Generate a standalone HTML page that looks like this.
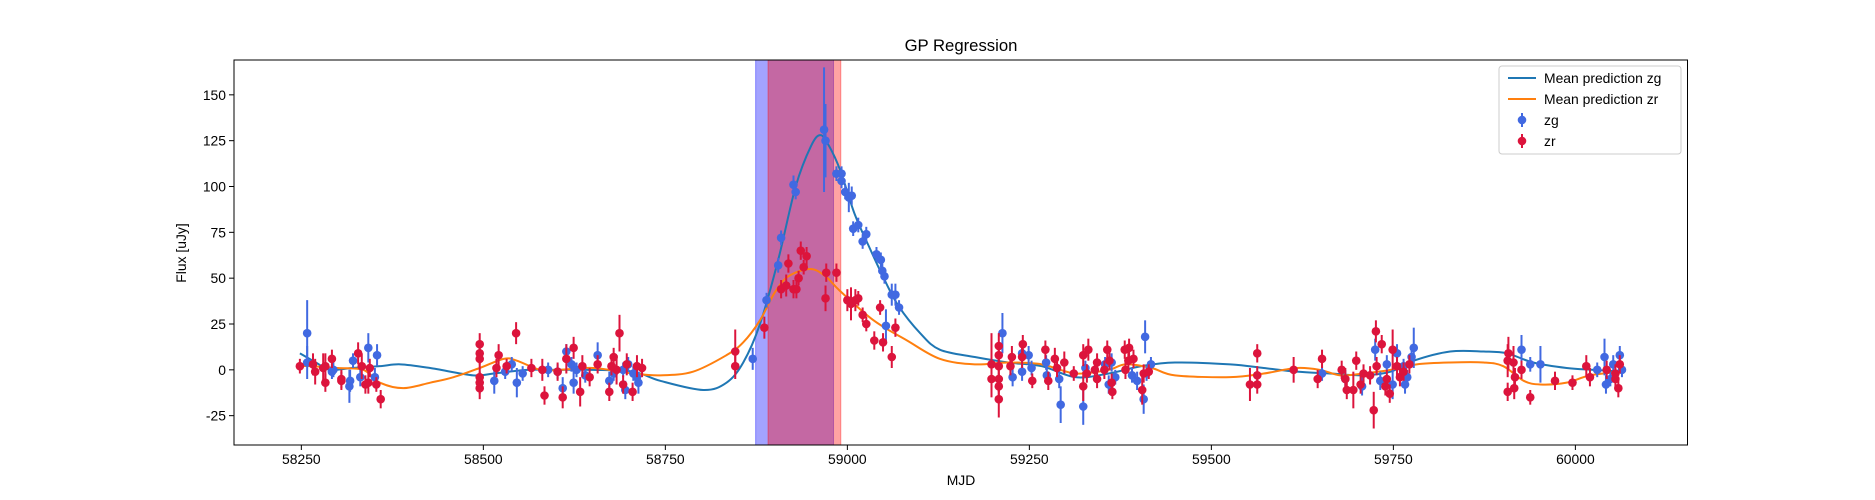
<!DOCTYPE html>
<html><head><meta charset="utf-8"><style>
body{margin:0;background:#fff}
svg{display:block;font-family:"Liberation Sans","DejaVu Sans",sans-serif}
</style></head><body>
<svg id="chart" width="1875" height="500" viewBox="0 0 1875 500"></svg>
<script>
const zgPoints=[[58258,20,18],[58258,4,9],[58294,0,4],[58292,-1,4],[58321,5,4],[58342,12,8],[58354,8,6],[58317,-6,6],[58316,-9,9],[58331,-4,5],[58351,-4,5],
[58515,-6,7],[58530,-1,4],[58539,3,4],[58546,-7,8],[58554,-2,4],[58589,0,4],[58602,-1,4],[58609,-10,6],[58614,10,4],[58624,-7,6],[58621,3,4],[58628,0,4],[58640,-3,4],[58657,8,7],[58673,-6,5],[58679,-2,4],[58692,0,4],[58699,3,4],[58706,-2,4],[58711,-4,4],[58713,-7,6],[58695,-11,5],
[58870,6,6],[58889,38,4],[58905,57,4],[58909,72,4],[58926,101,5],[58929,97,4],[58968,131,34],[58970,125,20],[58985,107,4],[58992,107,4],[58992,103,4],[58997,97,4],[59002,94,8],[59006,95,5],[59008,77,4],[59015,79,4],[59021,70,4],[59026,74,4],[59040,63,4],[59046,60,4],[59048,54,4],[59051,51,4],[59061,41,6],[59066,41,6],[59071,34,4],[59053,24,9],
[59213,20,11],[59227,-4,5],[59240,9,5],[59240,-1,5],[59249,8,5],[59253,1,4],[59273,4,4],[59274,-3,5],[59291,-5,5],[59293,-19,10],[59324,-20,10],[59327,1,4],[59354,3,4],[59363,4,5],[59359,-8,5],[59368,-4,4],[59391,-3,4],[59398,-6,5],[59409,18,9],[59407,-16,8],[59417,3,4],[59411,-2,4],
[59652,-2,4],[59684,-5,5],[59707,-9,5],[59725,11,6],[59732,-6,5],[59741,3,5],[59749,-8,8],[59755,9,5],[59764,2,4],[59766,-8,5],[59769,-4,4],[59775,7,5],[59778,12,11],
[59926,11,8],[59938,3,4],[59952,3,10],[60030,0,4],[60040,7,10],[60042,-8,5],[60052,3,5],[60061,8,5],[60064,0,4],[60048,-5,4]];
const zrPoints=[[58248,2,4],[58266,3,6],[58269,-1,7],[58280,1,8],[58283,2,7],[58283,-7,5],[58292,6,5],[58305,-5,5],[58305,-6,5],[58328,9,6],[58333,2,7],[58344,1,5],[58338,-8,5],[58342,-7,6],[58353,-8,4],[58359,-16,5],
[58495,14,6],[58495,9,6],[58495,6,5],[58495,-4,5],[58495,-7,6],[58495,-10,6],[58521,8,6],[58518,1,5],[58532,2,4],[58545,20,6],[58566,1,5],[58581,0,6],[58584,-14,5],[58602,-1,5],[58609,-15,6],[58614,6,8],[58624,12,6],[58636,2,6],[58633,-12,8],[58646,-4,5],[58657,3,5],[58673,-12,5],[58676,2,5],[58679,7,5],[58687,20,10],[58683,0,8],[58692,-8,5],[58697,3,6],[58705,-12,5],[58711,2,6],[58718,1,5],
[58846,10,12],[58846,2,7],[58886,23,6],[58909,44,5],[58916,46,6],[58919,58,5],[58926,44,5],[58930,44,5],[58933,50,4],[58936,65,5],[58940,56,4],[58944,62,5],[58970,39,7],[58971,53,5],[58985,53,5],[59000,38,6],[59005,36,9],[59011,38,6],[59015,39,4],[59021,30,4],[59026,25,4],[59037,16,5],[59045,34,4],[59049,15,5],[59061,7,6],[59066,23,5],
[59198,3,17],[59198,-5,10],[59208,13,7],[59208,8,7],[59208,2,7],[59208,-5,7],[59208,-9,7],[59208,-16,10],[59226,7,6],[59224,2,5],[59241,14,5],[59240,7,6],[59254,-6,4],[59272,11,5],[59276,-6,5],[59285,6,6],[59288,1,5],[59298,4,6],[59311,-2,4],[59324,8,6],[59331,11,6],[59324,-9,8],[59329,-2,5],[59343,4,5],[59340,0,5],[59343,-5,5],[59357,11,5],[59360,5,5],[59353,0,5],[59363,-7,5],[59364,-12,4],[59381,11,5],[59387,12,5],[59386,5,5],[59393,6,5],[59382,0,5],[59405,-11,8],[59407,-2,5],[59414,-1,4],
[59553,-8,9],[59563,9,5],[59563,-3,5],[59563,-8,5],[59613,0,7],[59646,-5,5],[59652,6,5],[59679,0,5],[59684,-5,6],[59686,-11,5],[59695,-11,10],[59699,5,5],[59705,-8,5],[59709,-2,5],[59718,-3,5],[59723,-22,10],[59726,21,6],[59727,2,5],[59734,14,5],[59739,-9,5],[59745,-13,5],[59749,11,11],[59741,-5,5],[59755,2,5],[59759,-4,5],[59764,-1,5],[59772,3,5],
[59908,9,9],[59907,5,9],[59915,4,9],[59917,-4,5],[59926,0,5],[59907,-12,5],[59916,-10,6],[59938,-15,4],[59972,-6,5],[59996,-7,4],[60015,2,6],[60020,-4,5],[60043,0,5],[60055,-2,5],[60055,-5,5],[60059,-10,5],[60061,3,5]];
const zgCurve=[[58248,9],[58270,4],[58289,0],[58320,1],[58358,2],[58386,3],[58427,1],[58486,-3],[58514,-2],[58560,0],[58605,0],[58651,0],[58706,-1],[58743,-6],[58802,-11],[58834,-7],[58857,4],[58880,25],[58905,60],[58929,100],[58950,122],[58963,128],[58975,122],[58990,109],[59010,85],[59030,67],[59050,50],[59070,35],[59100,20],[59127,11],[59175,7],[59221,4],[59267,2],[59313,-4],[59359,-2],[59404,2],[59450,4],[59526,3],[59572,1],[59617,-1],[59663,-2],[59709,-3],[59746,-1],[59778,5],[59828,10],[59874,10],[59906,9],[59942,4],[59988,1],[60025,0],[60064,-1]];
const zrCurve=[[58248,2],[58262,2],[58300,1],[58335,0],[58358,-7],[58390,-10],[58427,-7],[58459,-4],[58495,1],[58528,6],[58546,5],[58578,0],[58605,0],[58651,1],[58706,-2],[58743,-3],[58788,-1],[58834,8],[58857,15],[58880,27],[58900,42],[58919,51],[58949,55],[58970,51],[58990,43],[59036,27],[59082,16],[59127,6],[59175,3],[59221,4],[59267,3],[59313,-2],[59359,0],[59382,3],[59418,1],[59450,-3],[59526,-4],[59572,-2],[59617,1],[59649,0],[59677,-3],[59709,-2],[59746,0],[59782,3],[59828,4],[59874,4],[59901,2],[59929,-6],[59952,-8],[59988,-7],[60020,-3],[60064,-1]];
const zgSpan=[58874,58981];
const zrSpan=[58891,58991];
const xTicks=[58250,58500,58750,59000,59250,59500,59750,60000];
const yTicks=[-25,0,25,50,75,100,125,150];

const L=234,R=1687.5,T=60,B=445,X0=58157.5,X1=60154,Y0=-41,Y1=169;
const sx=m=>L+(m-X0)/(X1-X0)*(R-L);
const sy=v=>B-(v-Y0)/(Y1-Y0)*(B-T);
const svg=document.getElementById('chart');
const NS='http://www.w3.org/2000/svg';
function mk(tag,attrs,parent){const e=document.createElementNS(NS,tag);for(const k in attrs)e.setAttribute(k,attrs[k]);(parent||svg).appendChild(e);return e;}

function span(s,color,name){const r=mk('rect',{x:sx(s[0]),y:T,width:sx(s[1])-sx(s[0]),height:B-T,fill:color,'fill-opacity':0.36,stroke:color,'stroke-opacity':0.36});

}
span(zgSpan,'#0000ff','zg-span');
span(zrSpan,'#ff0000','zr-span');

function smooth(pts){const p=pts.map(a=>[sx(a[0]),sy(a[1])]);let d='M'+p[0][0]+','+p[0][1];
for(let i=0;i<p.length-1;i++){const p0=p[i-1]||p[i],p1=p[i],p2=p[i+1],p3=p[i+2]||p2;
d+=' C'+(p1[0]+(p2[0]-p0[0])/6)+','+(p1[1]+(p2[1]-p0[1])/6)+' '+(p2[0]-(p3[0]-p1[0])/6)+','+(p2[1]-(p3[1]-p1[1])/6)+' '+p2[0]+','+p2[1];}
return d;}
const clip=mk('clipPath',{id:'pc'});mk('rect',{x:L,y:T,width:R-L,height:B-T},clip);
const c1=mk('path',{d:smooth(zgCurve),fill:'none',stroke:'#1f77b4','stroke-width':2,'clip-path':'url(#pc)'});


const c2=mk('path',{d:smooth(zrCurve),fill:'none',stroke:'#ff7f0e','stroke-width':2,'clip-path':'url(#pc)'});



function pts(arr,color,name){const g=mk('g',{'clip-path':'url(#pc)'});


arr.forEach(a=>{mk('line',{x1:sx(a[0]),x2:sx(a[0]),y1:sy(a[1]-a[2]),y2:sy(a[1]+a[2]),stroke:color,'stroke-width':2},g);});
arr.forEach(a=>{const c=mk('circle',{cx:sx(a[0]),cy:sy(a[1]),r:4.3,fill:color},g);

});}
pts(zgPoints,'#4169e1','zg');
pts(zrPoints,'#dc143c','zr');

const frame=mk('rect',{x:L,y:T,width:R-L,height:B-T,fill:'none',stroke:'#000','stroke-width':1});


xTicks.forEach(t=>{const x=sx(t);mk('line',{x1:x,x2:x,y1:B,y2:B+5,stroke:'#000'});
const tx=mk('text',{x:x,y:B+19,'text-anchor':'middle','font-size':13.9});tx.textContent=t;

});
yTicks.forEach(t=>{const y=sy(t);mk('line',{x1:L-5,x2:L,y1:y,y2:y,stroke:'#000'});
const tx=mk('text',{x:L-8,y:y+5,'text-anchor':'end','font-size':13.9});tx.textContent=t;

});
</script>
<svg width="1875" height="500" style="position:absolute;left:0;top:0" font-family="Liberation Sans, DejaVu Sans, sans-serif">
<text x="961" y="51" text-anchor="middle" font-size="16.7">GP Regression</text>
<text x="961" y="485" text-anchor="middle" font-size="13.9">MJD</text>
<text transform="translate(186,253) rotate(-90)" text-anchor="middle" font-size="13.9">Flux [uJy]</text>
<g>
<rect x="1499" y="66" width="182" height="88" rx="3" fill="#fff" fill-opacity="0.8" stroke="#ccc"/>
<g><line x1="1508" x2="1536" y1="78" y2="78" stroke="#1f77b4" stroke-width="2"/><text x="1544" y="83" font-size="13.9">Mean prediction zg</text></g>
<g><line x1="1508" x2="1536" y1="99" y2="99" stroke="#ff7f0e" stroke-width="2"/><text x="1544" y="104" font-size="13.9">Mean prediction zr</text></g>
<g><line x1="1522" x2="1522" y1="113" y2="127" stroke="#4169e1" stroke-width="2"/><circle cx="1522" cy="120" r="4.3" fill="#4169e1"/><text x="1544" y="125" font-size="13.9">zg</text></g>
<g><line x1="1522" x2="1522" y1="134" y2="148" stroke="#dc143c" stroke-width="2"/><circle cx="1522" cy="141" r="4.3" fill="#dc143c"/><text x="1544" y="146" font-size="13.9">zr</text></g>
</g>
</svg>
</body></html>
